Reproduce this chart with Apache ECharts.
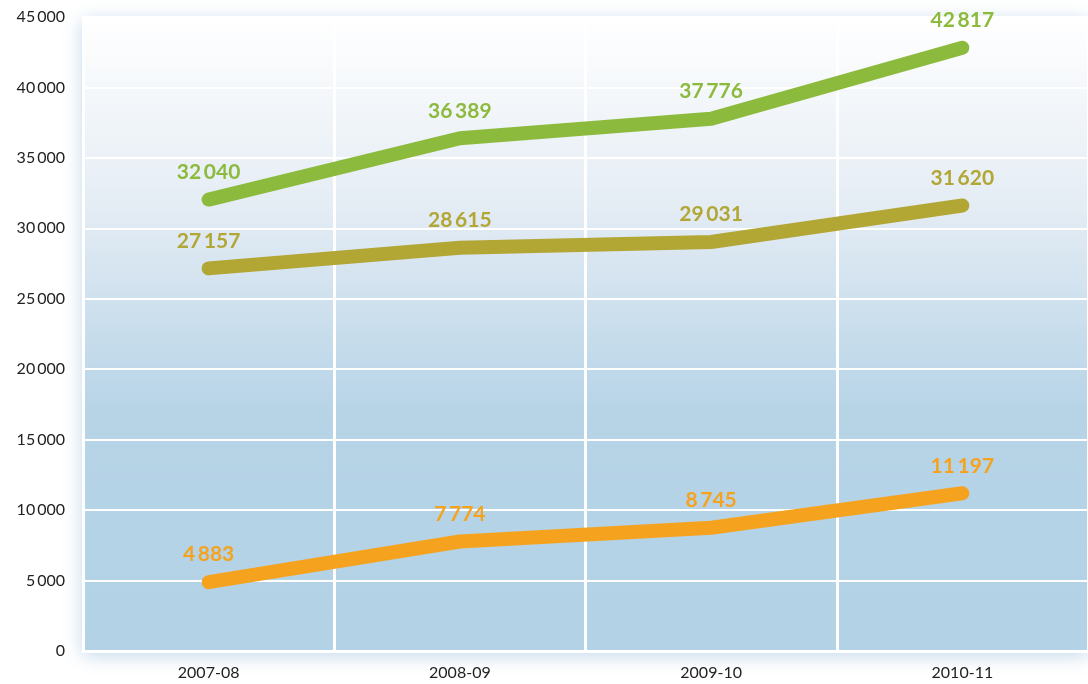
<!DOCTYPE html>
<html>
<head>
<meta charset="utf-8">
<script src="https://cdn.jsdelivr.net/npm/echarts@6/dist/echarts.min.js"></script>
<style>
  html, body { margin: 0; padding: 0; background: #fff; }
  #main { width: 1088px; height: 684px; }
</style>
</head>
<body>
<div id="main"></div>
<script>
const years = ['2007-08', '2008-09', '2009-10', '2010-11']
const totalGreen = [32040, 36389, 37776, 42817]
const middleOlive = [27157, 28615, 29031, 31620]
const lowerOrange = [4883, 7774, 8745, 11197]
const yTicks = { min: 0, max: 45000, step: 5000 }

// thin space as thousands separator, like the original
function fmt(v) {
  return String(v).replace(/\B(?=(\d{3})+(?!\d))/g, '\u2009')
}

function lineSeries(name, data, color) {
  return {
    name: name,
    type: 'line',
    data: data,
    symbol: 'circle',
    symbolSize: 2,
    showSymbol: true,
    lineStyle: { color: color, width: 14, cap: 'round', join: 'round' },
    itemStyle: { color: color },
    label: {
      show: true,
      position: 'top',
      distance: 16,
      color: color,
      fontFamily: 'Lato',
      fontWeight: 'bold',
      fontSize: 21,
      formatter: p => fmt(p.value)
    },
    z: 3
  }
}

const chart = echarts.init(document.getElementById('main'))
chart.setOption({
  animation: false,
  backgroundColor: '#ffffff',
  grid: {
    left: 83, right: -3, top: 17, bottom: 33,
    show: true,
    borderWidth: 0,
    backgroundColor: new echarts.graphic.LinearGradient(0, 0, 0, 1, [
      { offset: 0, color: '#ffffff' },
      { offset: 0.3, color: '#e4ecf4' },
      { offset: 0.62, color: '#b7d4e7' },
      { offset: 1, color: '#b3d2e5' }
    ]),
    shadowColor: 'rgba(110,160,205,0.45)',
    shadowBlur: 18,
    shadowOffsetY: 4
  },
  xAxis: {
    type: 'category',
    data: years,
    boundaryGap: true,
    axisLine: { show: true, lineStyle: { color: '#ffffff', width: 3 } },
    axisTick: { show: false },
    splitLine: { show: true, lineStyle: { color: '#ffffff', width: 3 } },
    axisLabel: { color: '#222', fontFamily: 'Lato', fontSize: 16, margin: 14 }
  },
  yAxis: {
    type: 'value',
    min: yTicks.min,
    max: yTicks.max,
    interval: yTicks.step,
    axisLine: { show: true, lineStyle: { color: '#ffffff', width: 3 } },
    axisTick: { show: false },
    splitLine: { show: true, lineStyle: { color: '#ffffff', width: 2 } },
    axisLabel: {
      color: '#222', fontFamily: 'Lato', fontSize: 16, margin: 18,
      formatter: v => fmt(v)
    }
  },
  series: [
    lineSeries('green', totalGreen, '#8cba3d'),
    lineSeries('olive', middleOlive, '#b2a635'),
    lineSeries('orange', lowerOrange, '#f5a31f')
  ]
})
</script>
</body>
</html>
